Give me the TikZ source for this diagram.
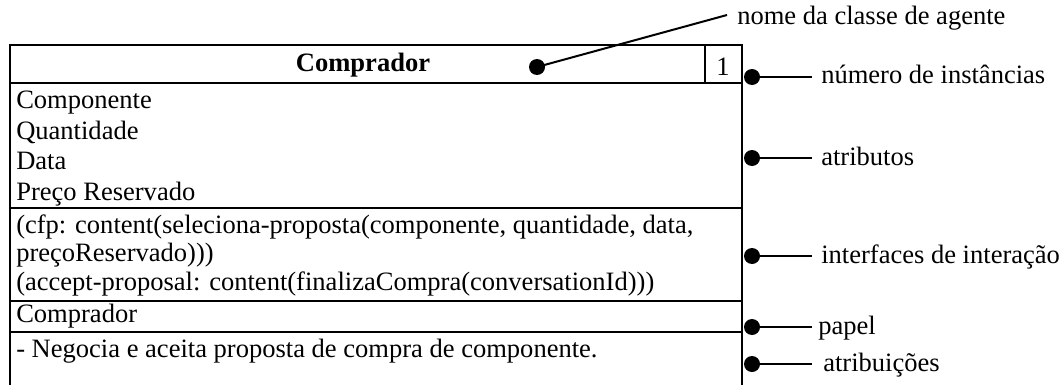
\documentclass[tikz,border=0pt]{standalone}
\usepackage{fontspec}
\setmainfont{Liberation Serif}
\begin{document}
\begin{tikzpicture}[x=0.75pt,y=-0.75pt,
  box/.style={line width=2.2pt,line join=miter},
  lead/.style={line width=1.5pt},
  dot/.style={circle,fill=black,inner sep=0pt,minimum size=12pt},
  txt/.style={anchor=base west,inner sep=0pt,font=\fontsize{19.9}{23}\selectfont},
  hdr/.style={anchor=base,inner sep=0pt,font=\fontsize{19.9}{23}\selectfont\bfseries}]
\useasboundingbox (0,0) rectangle (1062,385);
\fill[white] (0,0) rectangle (1062,385);
% class box
\draw[box] (10,385) -- (10,45) -- (742,45) -- (742,385);
\draw[box] (10,83) -- (742,83);
\draw[box] (705,45) -- (705,83);
\draw[box] (10,208) -- (742,208);
\draw[box] (10,301) -- (742,301);
\draw[box] (10,332) -- (742,332);
% header
\node[hdr] (name) at (363,71) {Comprador};
\node[hdr,font=\fontsize{19.9}{23}\selectfont] (num) at (723,75) {1};
% attributes
\node[txt] (a1) at (16,108) {Componente};
\node[txt] (a2) at (16,139) {Quantidade};
\node[txt] (a3) at (16,169) {Data};
\node[txt] (a4) at (16,200) {Preço Reservado};
% interfaces
\node[txt] (i1) at (16,233) {(cfp: content(seleciona-proposta(componente, quantidade, data,};
\node[txt] (i2) at (16,261) {preçoReservado)))};
\node[txt] (i3) at (16,290) {(accept-proposal: content(finalizaCompra(conversationId)))};
% role
\node[txt] (r1) at (16,322) {Comprador};
% duties
\node[txt] (d1) at (16,357) {- Negocia e aceita proposta de compra de componente.};
% annotation: class name
\node[dot] (b0) at (537,67) {};
\coordinate (e0) at (727,15);
\draw[lead] (b0.center) -- (e0);
\node[txt] (l0) at (737,25) {nome da classe de agente};
% right annotations
\node[dot] (b1) at (752,77) {};
\coordinate (e1) at (812,77);
\draw[lead] (b1.center) -- (e1);
\node[txt] (l1) at (821,84) {número de instâncias};
\node[dot] (b2) at (752,158) {};
\coordinate (e2) at (812,158);
\draw[lead] (b2.center) -- (e2);
\node[txt] (l2) at (821,165) {atributos};
\node[dot] (b3) at (752,256) {};
\coordinate (e3) at (812,256);
\draw[lead] (b3.center) -- (e3);
\node[txt] (l3) at (821,263) {interfaces de interação};
\node[dot] (b4) at (752,327) {};
\coordinate (e4) at (812,327);
\draw[lead] (b4.center) -- (e4);
\node[txt] (l4) at (818,334) {papel};
\node[dot] (b5) at (752,364) {};
\coordinate (e5) at (812,364);
\draw[lead] (b5.center) -- (e5);
\node[txt] (l5) at (823,371) {atribuições};
\end{tikzpicture}
\end{document}
